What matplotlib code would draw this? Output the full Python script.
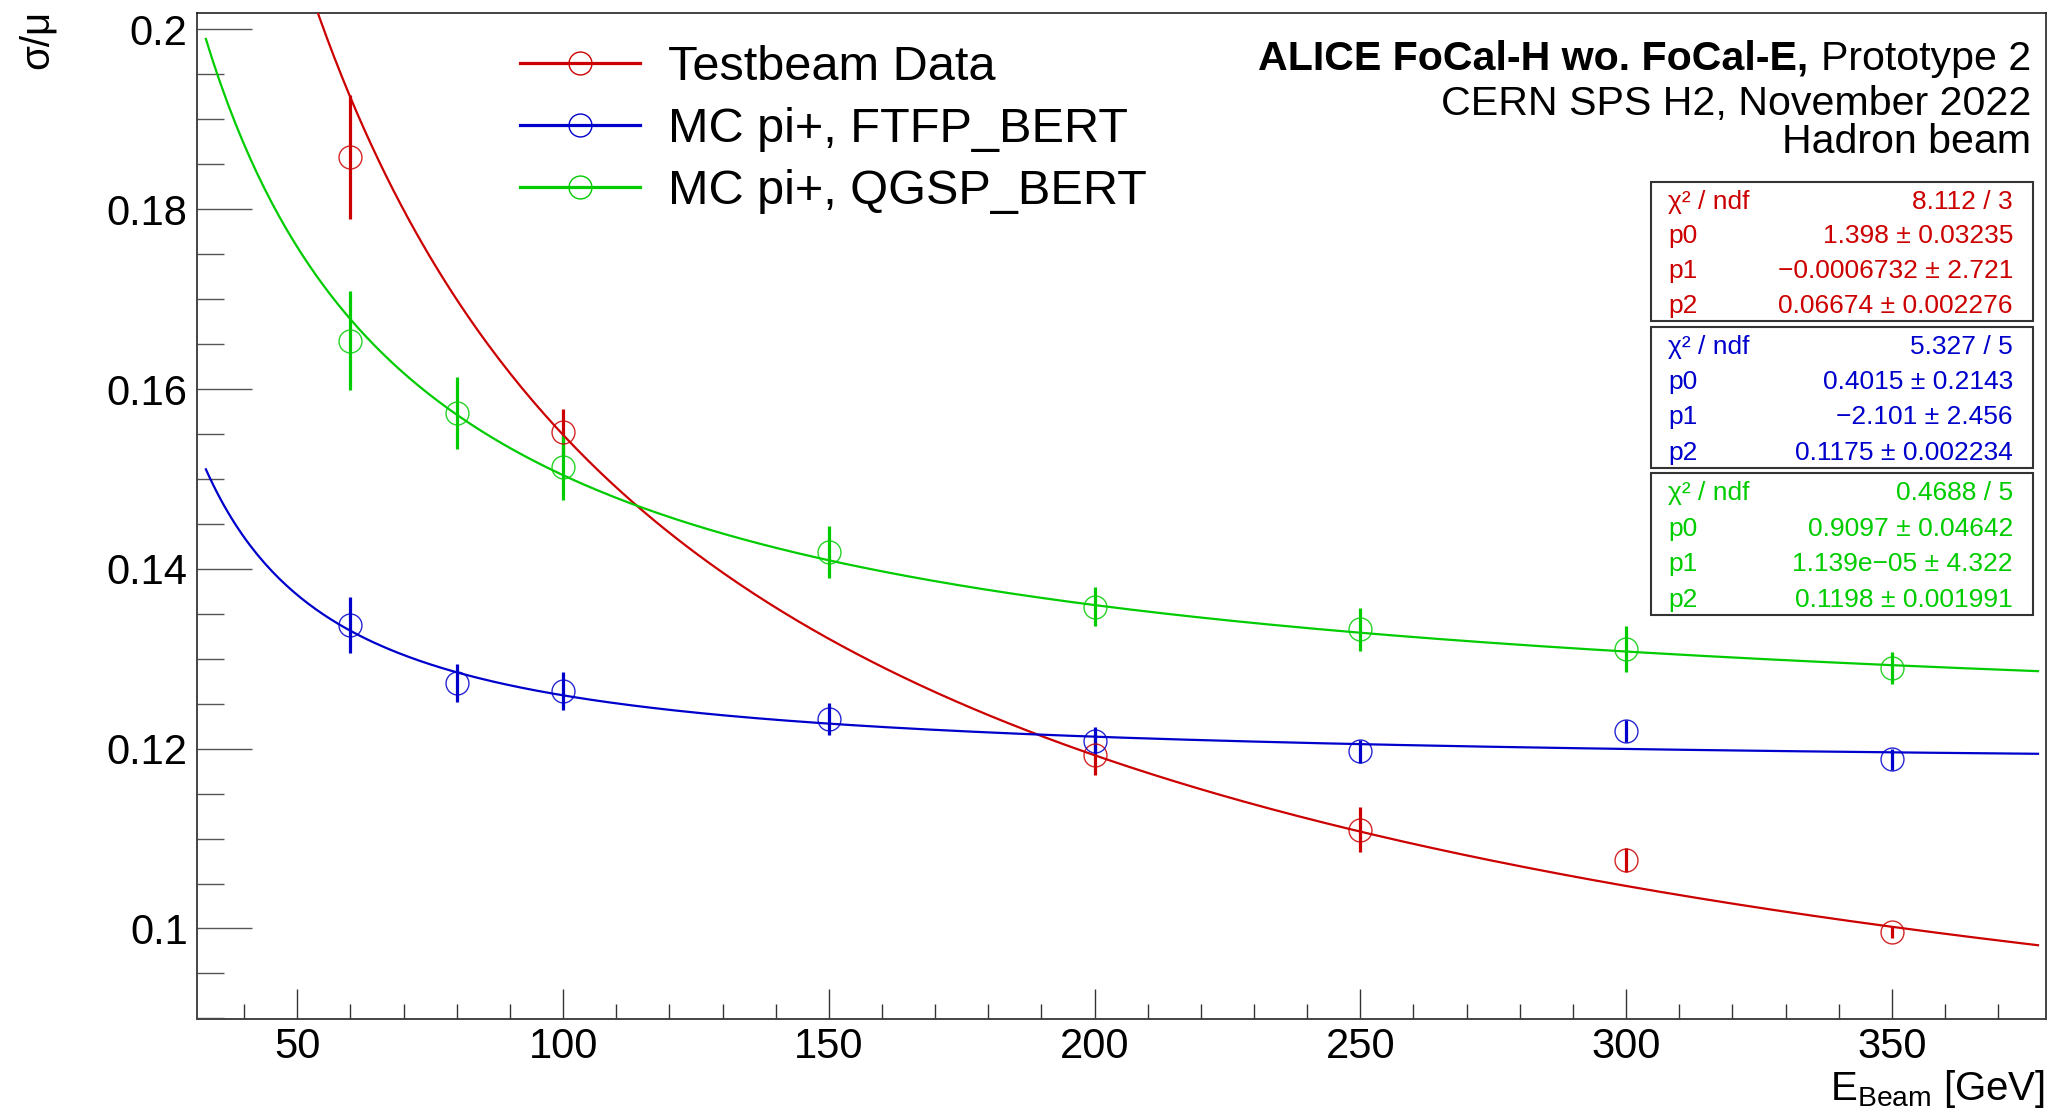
import numpy as np
import matplotlib
matplotlib.use("Agg")
import matplotlib.pyplot as plt
from matplotlib.lines import Line2D
from matplotlib.patches import Rectangle
from matplotlib.ticker import MultipleLocator, FixedLocator

plt.rcParams['font.family'] = ['Liberation Sans', 'DejaVu Sans']
plt.rcParams['mathtext.fontset'] = 'custom'
plt.rcParams['mathtext.rm'] = 'Liberation Sans'
plt.rcParams['mathtext.it'] = 'Liberation Sans:italic'
plt.rcParams['mathtext.bf'] = 'Liberation Sans:bold'

# ---------------- data ----------------
energy_data = [60, 100, 200, 250, 300, 350]
reso_data = [0.1858, 0.1552, 0.1193, 0.1110, 0.1076, 0.0996]
err_data = [0.0069, 0.0026, 0.0022, 0.0025, 0.0013, 0.0007]

energy_mc = [60, 80, 100, 150, 200, 250, 300, 350]
reso_ftfp = [0.1338, 0.1273, 0.1264, 0.1233, 0.1209, 0.1197, 0.1220, 0.1188]
err_ftfp = [0.0031, 0.0021, 0.0021, 0.0018, 0.0015, 0.0013, 0.0012, 0.0012]
reso_qgsp = [0.1654, 0.1573, 0.1513, 0.1419, 0.1358, 0.1333, 0.1311, 0.1290]
err_qgsp = [0.0055, 0.0040, 0.0036, 0.0029, 0.0022, 0.0024, 0.0026, 0.0018]

# fit parameters p0, p1, p2 of sqrt(p0^2/E + p1^2/E^2 + p2^2)
fit_data = [1.398, -0.0006732, 0.06674]
fit_ftfp = [0.4015, -2.101, 0.1175]
fit_qgsp = [0.9097, 1.139e-05, 0.1198]
fit_range = [32.8, 377.5]

series_labels = ["Testbeam Data", "MC pi+, FTFP_BERT", "MC pi+, QGSP_BERT"]

stats_data = [("\u03c7\u00b2 / ndf", "8.112 / 3"), ("p0", "1.398 \u00b1 0.03235"),
              ("p1", "\u22120.0006732 \u00b1 2.721"), ("p2", "0.06674 \u00b1 0.002276")]
stats_ftfp = [("\u03c7\u00b2 / ndf", "5.327 / 5"), ("p0", "0.4015 \u00b1 0.2143"),
              ("p1", "\u22122.101 \u00b1 2.456"), ("p2", "0.1175 \u00b1 0.002234")]
stats_qgsp = [("\u03c7\u00b2 / ndf", "0.4688 / 5"), ("p0", "0.9097 \u00b1 0.04642"),
              ("p1", "1.139e\u221205 \u00b1 4.322"), ("p2", "0.1198 \u00b1 0.001991")]

x_ticks = [50, 100, 150, 200, 250, 300, 350]
y_ticks = [0.10, 0.12, 0.14, 0.16, 0.18, 0.20]
y_tick_labels = ["0.1", "0.12", "0.14", "0.16", "0.18", "0.2"]

title_bold = "ALICE FoCal-H wo. FoCal-E,"
title_rest = "Prototype 2"
title_lines = ["CERN SPS H2, November 2022", "Hadron beam"]

RED, BLUE, GREEN = "#cc0000", "#0000cc", "#00cc00"

# ---------------- figure ----------------
W, H = 2051, 1112
fig = plt.figure(figsize=(W / 100, H / 100), dpi=100)
fx = lambda x: x / W
fy = lambda y: 1 - y / H

left, right, top, bottom = 196.7, 2046.5, 13.3, 1019.3
ax = fig.add_axes([fx(left), fy(bottom), (right - left) / W, (bottom - top) / H])
ax.set_xlim(31.07, 379.1)
ax.set_ylim(0.0899, 0.2018)


def draw_series(x, y, e, params, color):
    E = np.linspace(fit_range[0], fit_range[1], 500)
    p0, p1, p2 = params
    f = np.sqrt(p0 ** 2 / E + p1 ** 2 / E ** 2 + p2 ** 2)
    ax.errorbar(x, y, yerr=e, fmt='none', ecolor=color, elinewidth=2.3, capsize=0, zorder=3)
    ax.plot(x, y, 'o', mfc='none', mec=color, ms=16.5, mew=1.0, zorder=4, alpha=0.85)
    ax.plot(E, f, '-', color=color, lw=1.6, zorder=5)


draw_series(energy_data, reso_data, err_data, fit_data, RED)
draw_series(energy_mc, reso_ftfp, err_ftfp, fit_ftfp, BLUE)
draw_series(energy_mc, reso_qgsp, err_qgsp, fit_qgsp, GREEN)

# axes styling
for s in ['top', 'right']:
    ax.spines[s].set_linewidth(1.2)
    ax.spines[s].set_color('#222222')
for s in ['left', 'bottom']:
    ax.spines[s].set_linewidth(1.4)
    ax.spines[s].set_color('#444444')

ax.xaxis.set_major_locator(FixedLocator(x_ticks))
ax.xaxis.set_minor_locator(MultipleLocator(10))
ax.yaxis.set_major_locator(FixedLocator(y_ticks))
ax.set_yticklabels(y_tick_labels)
ax.yaxis.set_minor_locator(MultipleLocator(0.005))
ax.tick_params(axis='x', which='major', direction='in', length=21.6, width=1.0,
               color='#333333', labelsize=30, pad=5.5, top=False)
ax.tick_params(axis='x', which='minor', direction='in', length=10.8, width=1.0,
               color='#333333', top=False)
ax.tick_params(axis='y', which='major', direction='in', length=39.6, width=1.0,
               color='#555555', labelsize=30, pad=6.5, right=False)
ax.tick_params(axis='y', which='minor', direction='in', length=19.4, width=1.0,
               color='#555555', right=False)

# axis titles
fig.text(fx(2045), fy(1100), r"E$_{\mathrm{Beam}}$ [GeV]", ha='right', va='baseline', fontsize=29)
fig.text(fx(37), fy(10), "\u03c3/\u03bc", rotation=90, ha='center', va='top', fontsize=29)

# legend
handles = [Line2D([], [], color=c, lw=2.3, marker='o', ms=16.5, mfc='none', mec=c, mew=1.0)
           for c in (RED, BLUE, GREEN)]
fig.legend(handles, series_labels, loc='upper left', bbox_to_anchor=(fx(520), fy(45)),
           frameon=False, fontsize=35, handlelength=2.47, handletextpad=0.58,
           labelspacing=0.35, borderpad=0, borderaxespad=0)

# header text
fig.canvas.draw()
renderer = fig.canvas.get_renderer()
t_rest = fig.text(fx(2031), fy(70), title_rest, ha='right', va='baseline', fontsize=29.6)
bb = t_rest.get_window_extent(renderer)
fig.text(bb.x0 / W - fx(12), fy(70), title_bold, ha='right', va='baseline', fontsize=29.6,
         fontweight='bold')
fig.text(fx(2031), fy(115), title_lines[0], ha='right', va='baseline', fontsize=29.6)
fig.text(fx(2031), fy(153), title_lines[1], ha='right', va='baseline', fontsize=29.6)

# stats boxes
boxes = [(stats_data, RED, 181.7, 321.0), (stats_ftfp, BLUE, 327.0, 467.7),
         (stats_qgsp, GREEN, 473.0, 615.0)]
for rows, color, y0, y1 in boxes:
    fig.add_artist(Rectangle((fx(1651), fy(y1)), (2033 - 1651) / W, (y1 - y0) / H,
                             transform=fig.transFigure, facecolor='white',
                             edgecolor='#333333', lw=1.5, zorder=10))
    h = (y1 - y0) / len(rows)
    for i, (k, v) in enumerate(rows):
        yc = y0 + h * (i + 0.5)
        fig.text(fx(1668), fy(yc), k, ha='left', va='center_baseline', fontsize=19,
                 color=color, zorder=11)
        fig.text(fx(2013), fy(yc), v, ha='right', va='center_baseline', fontsize=19,
                 color=color, zorder=11)

fig.savefig("out.png", dpi=100)
